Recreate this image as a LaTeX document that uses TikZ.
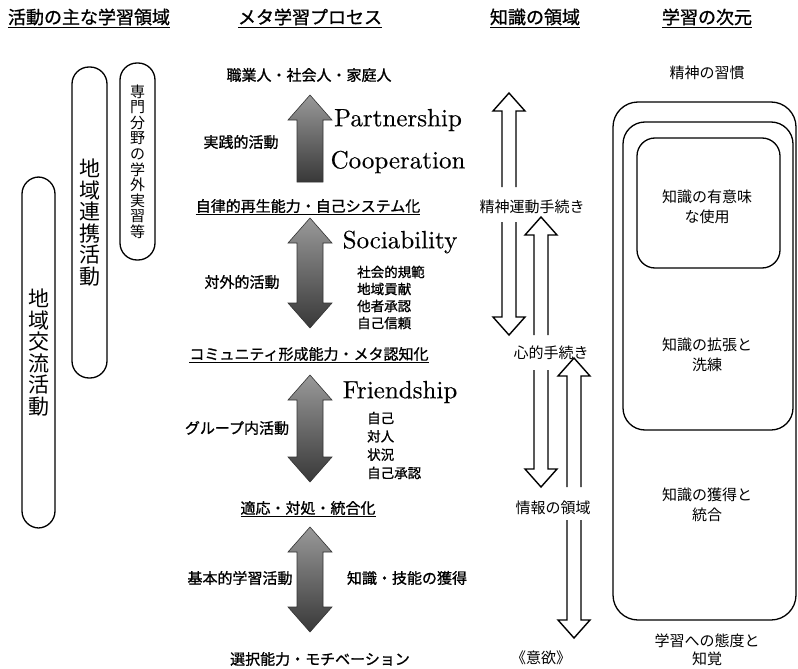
\documentclass[tikz,border=0pt]{standalone}
\usepackage{fontspec}
\newfontfamily\jp{Noto Sans CJK JP}
\newfontfamily\jpb[FakeBold=1]{Noto Sans CJK JP}
\newfontfamily\engfont[FakeBold=0.3]{lmroman10-regular.otf}
\newcommand\garrowup[4]{% name, x, tip, bottom
  \path[garrow] (#2-13,#4) -- (#2-13,#3+25) -- (#2-22,#3+25) -- (#2,#3) -- (#2+22,#3+25) -- (#2+13,#3+25) -- (#2+13,#4) -- cycle;}
\newcommand\garrowud[3]{% x, top tip, bottom tip
  \path[garrow] (#1-13,#2+25) -- (#1-22,#2+25) -- (#1,#2) -- (#1+22,#2+25) -- (#1+13,#2+25) -- (#1+13,#3-25) -- (#1+22,#3-25) -- (#1,#3) -- (#1-22,#3-25) -- (#1-13,#3-25) -- cycle;}
\newcommand\warrowup[3]{% x, tip, bottom
  \draw[warrow] (#1-7,#3) -- (#1-7,#2+18) -- (#1-16,#2+18) -- (#1,#2) -- (#1+16,#2+18) -- (#1+7,#2+18) -- (#1+7,#3);}
\newcommand\warrowdown[3]{% x, top, tip
  \draw[warrow] (#1-7,#2) -- (#1-7,#3-18) -- (#1-16,#3-18) -- (#1,#3) -- (#1+16,#3-18) -- (#1+7,#3-18) -- (#1+7,#2);}
\begin{document}
\begin{tikzpicture}[x=1pt,y=-1pt,
  hdr/.style={font=\jpb\fontsize{18}{20}\selectfont, inner sep=1pt},
  mlab/.style={font=\jpb\fontsize{15}{17}\selectfont, inner sep=1pt},
  slab/.style={font=\jpb\fontsize{13.5}{17}\selectfont, align=left, inner sep=0pt},
  eng/.style={font=\engfont\fontsize{25}{27}\selectfont, inner sep=0pt},
  rlab/.style={font=\jp\fontsize{15}{20}\selectfont, align=center, inner sep=0pt},
  pill/.style={draw, line width=1.3pt, rounded corners=17pt, inner sep=0pt, align=center},
  vsmall/.style={font=\jp\fontsize{15}{15.6}\selectfont},
  vbig/.style={font=\jp\fontsize{21}{21.5}\selectfont},
  rbox/.style={draw, line width=1.3pt, inner sep=0pt},
  garrow/.style={draw=black!80, line width=0.6pt, top color=black!40, bottom color=black!78, line join=miter},
  warrow/.style={draw, line width=1.4pt, fill=white, line join=miter}
]
\useasboundingbox (0,0) rectangle (798,669);

% headers
\node[hdr] (h1) at (89,18) {\underline{活動の主な学習領域}};
\node[hdr] (h2) at (310,18) {\underline{メタ学習プロセス}};
\node[hdr] (h3) at (535,18) {\underline{知識の領域}};
\node[hdr] (h4) at (707,18) {\underline{学習の次元}};

% left pills
\node[pill, vsmall, minimum width=35pt, minimum height=197pt] (p1) at (137.5,161.5) {専\\門\\分\\野\\の\\学\\外\\実\\習\\等};
\node[pill, vbig, minimum width=35pt, minimum height=311pt] (p2) at (89.5,222.5) {地\\域\\連\\携\\活\\動};
\node[pill, vbig, minimum width=33pt, minimum height=351pt] (p3) at (38.5,352.5) {地\\域\\交\\流\\活\\動};

% middle column
\node[mlab] (m1) at (309,75) {職業人・社会人・家庭人};
\garrowup{a1}{310}{95}{182}
\node[mlab] (m1a) at (241,142) {実践的活動};
\node[eng] (e1) at (398,120) {Partnership};
\node[eng] (e2) at (398,162) {Cooperation};
\node[mlab] (m2) at (308,207) {\underline{自律的再生能力・自己システム化}};
\garrowud{310}{218}{328}
\node[eng] (e3) at (400,242) {Sociability};
\node[slab, anchor=west] (s1) at (357,297.5) {社会的規範\\地域貢献\\他者承認\\自己信頼};
\node[mlab] (m2a) at (242,282) {対外的活動};
\node[mlab] (m3) at (309,355) {\underline{コミュニティ形成能力・メタ認知化}};
\garrowud{310}{375}{482}
\node[eng] (e4) at (400,392) {Friendship};
\node[slab, anchor=west, font=\jpb\fontsize{13.5}{18.3}\selectfont] (s2) at (367,445.5) {自己\\対人\\状況\\自己承認};
\node[mlab] (m3a) at (237,428) {グループ内活動};
\node[mlab] (m4) at (308,509) {\underline{適応・対処・統合化}};
\garrowud{310}{527}{632}
\node[mlab] (m4a) at (240,578) {基本的学習活動};
\node[mlab] (m4b) at (407,578) {知識・技能の獲得};
\node[mlab] (m5) at (320,659) {選択能力・モチベーション};

% knowledge column
\warrowup{509}{93}{187}
\node[rlab] (k1) at (532,207) {精神運動手続き};
\warrowdown{509}{222}{335}
\warrowup{541}{217}{335}
\node[rlab] (k2) at (551,353) {心的手続き};
\warrowdown{541}{370}{487}
\warrowup{574}{358}{487}
\node[rlab] (k3) at (553,508) {情報の領域};
\warrowdown{574}{520}{638}
\node[rlab] (k4) at (541,658) {《意欲》};

% dimensions
\node[rlab] (d0) at (707,73) {精神の習慣};
\node[rbox, rounded corners=25pt, minimum width=183pt, minimum height=518pt] (bo) at (704.5,361) {};
\node[rbox, rounded corners=22pt, minimum width=170pt, minimum height=308pt] (bm) at (708,276) {};
\node[rbox, rounded corners=18pt, minimum width=143pt, minimum height=130pt] (bi) at (708.5,203) {};
\node[rlab] (d1) at (707,207) {知識の有意味\\な使用};
\node[rlab] (d2) at (707,355) {知識の拡張と\\洗練};
\node[rlab] (d3) at (707,505) {知識の獲得と\\統合};
\node[rlab, font=\jp\fontsize{15}{18}\selectfont] (d4) at (707,650) {学習への態度と\\知覚};
\end{tikzpicture}
\end{document}
